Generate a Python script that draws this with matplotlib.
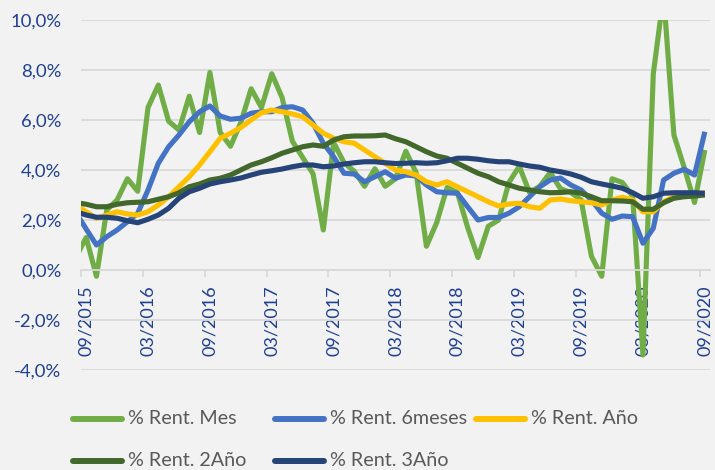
import matplotlib
matplotlib.use('Agg')
import matplotlib.pyplot as plt
from matplotlib.lines import Line2D
from matplotlib.ticker import FixedLocator
import numpy as np

# Monthly data, 08/2015 .. 09/2020 (values in %)
rent_mes = [0.5, 1.3, -0.25, 2.4, 2.8, 3.65, 3.15, 6.5, 7.4, 5.95, 5.6, 6.95, 5.5, 7.9, 5.5, 4.95,
            5.9, 7.25, 6.5, 7.85, 6.9, 5.15, 4.5, 3.85, 1.6, 5.1, 4.3, 3.95, 3.35, 4.05, 3.35,
            3.65, 4.75, 3.9, 0.95, 1.9, 3.3, 3.1, 1.7, 0.5, 1.75, 2.0, 3.5, 4.15, 3.1, 3.35,
            3.9, 3.25, 3.1, 2.8, 0.55, -0.25, 3.65, 3.5, 2.95, -3.4, 7.85, 11.0, 5.4, 4.1, 2.7, 4.8]
rent_6m = [2.3, 1.64, 1.0, 1.33, 1.6, 1.93, 2.27, 3.2, 4.27, 4.93, 5.4, 5.93, 6.33, 6.56, 6.16, 6.03,
           6.07, 6.27, 6.33, 6.33, 6.5, 6.53, 6.4, 5.87, 5.07, 4.53, 3.87, 3.84, 3.53, 3.73, 3.93,
           3.67, 3.8, 3.76, 3.4, 3.13, 3.09, 3.07, 2.53, 2.0, 2.1, 2.1, 2.27, 2.53, 2.93, 3.33,
           3.6, 3.68, 3.4, 3.2, 2.8, 2.27, 2.03, 2.16, 2.13, 1.07, 1.67, 3.6, 3.87, 4.03, 3.8, 5.53]
rent_ano = [2.6, 2.33, 2.07, 2.2, 2.33, 2.24, 2.2, 2.33, 2.6, 2.93, 3.33, 3.73, 4.2, 4.73, 5.27, 5.47,
            5.7, 6.0, 6.29, 6.4, 6.33, 6.24, 6.13, 5.8, 5.47, 5.27, 5.13, 5.07, 4.8, 4.53, 4.27,
            4.0, 3.93, 3.8, 3.53, 3.4, 3.53, 3.33, 3.13, 2.93, 2.73, 2.56, 2.64, 2.67, 2.53, 2.47,
            2.8, 2.84, 2.77, 2.73, 2.69, 2.6, 2.8, 2.91, 2.8, 2.33, 2.33, 2.73, 2.93, 3.0, 3.04, 3.09]
rent_2ano = [2.7, 2.63, 2.53, 2.53, 2.63, 2.69, 2.71, 2.73, 2.83, 2.93, 3.09, 3.33, 3.44, 3.6, 3.67, 3.8,
             4.0, 4.2, 4.33, 4.49, 4.67, 4.8, 4.93, 5.0, 4.95, 5.2, 5.33, 5.36, 5.36, 5.37, 5.4,
             5.25, 5.13, 4.93, 4.73, 4.56, 4.47, 4.27, 4.07, 3.87, 3.73, 3.53, 3.4, 3.27, 3.2, 3.13,
             3.09, 3.1, 3.13, 3.07, 2.93, 2.77, 2.77, 2.76, 2.73, 2.43, 2.43, 2.69, 2.87, 2.93, 2.96, 3.0]
rent_3ano = [2.33, 2.2, 2.11, 2.11, 2.07, 1.97, 1.89, 2.03, 2.2, 2.47, 2.87, 3.13, 3.27, 3.44, 3.53, 3.6,
             3.68, 3.8, 3.91, 3.97, 4.04, 4.13, 4.2, 4.2, 4.13, 4.16, 4.24, 4.29, 4.33, 4.33, 4.29,
             4.26, 4.27, 4.29, 4.27, 4.29, 4.37, 4.47, 4.47, 4.43, 4.37, 4.33, 4.33, 4.24, 4.16, 4.11,
             4.0, 3.93, 3.84, 3.71, 3.53, 3.44, 3.36, 3.27, 3.09, 2.87, 2.93, 3.07, 3.09, 3.09, 3.09, 3.07]

series_names = ['% Rent. Mes', '% Rent. 6meses', '% Rent. Año', '% Rent. 2Año', '% Rent. 3Año']
series_colors = ['#70AD47', '#4472C4', '#FFC000', '#43682B', '#264478']
xtick_labels = ['09/2015', '03/2016', '09/2016', '03/2017', '09/2017', '03/2018',
                '09/2018', '03/2019', '09/2019', '03/2020', '09/2020']
ytick_values = [-4, -2, 0, 2, 4, 6, 8, 10]
ytick_labels = ['-4,0%', '-2,0%', '0,0%', '2,0%', '4,0%', '6,0%', '8,0%', '10,0%']

plt.rcParams['font.family'] = ['Lato', 'DejaVu Sans']
BG = '#F2F2F2'
GRID = '#D9D9D9'
LABEL = '#1F3F94'

W, H = 715, 470
fig = plt.figure(figsize=(W / 100, H / 100), dpi=100, facecolor=BG)
ax = fig.add_axes([81 / W, (H - 370) / H, (710 - 81) / W, 350 / H])
ax.set_facecolor(BG)

x = np.arange(len(rent_mes))
all_series = [rent_mes, rent_6m, rent_ano, rent_2ano, rent_3ano]
for vals, name, col in zip(all_series, series_names, series_colors):
    ax.plot(x, vals, color=col, lw=3.7, solid_joinstyle='round', solid_capstyle='butt', label=name)

ax.set_xlim(0.5, len(rent_mes) - 0.5)
ax.set_ylim(-4, 10)
ax.set_yticks(ytick_values)
ax.set_yticklabels(ytick_labels)
ax.yaxis.grid(True, color=GRID, lw=1.3)
ax.set_axisbelow(True)
for s in ['left', 'right', 'top']:
    ax.spines[s].set_visible(False)
ax.spines['bottom'].set_position(('data', 0))
ax.spines['bottom'].set_color(GRID)
ax.spines['bottom'].set_linewidth(1.3)

label_pos = x[1::6]
ax.set_xticks(label_pos)
ax.set_xticklabels(xtick_labels, rotation=90)
ax.xaxis.set_minor_locator(FixedLocator(label_pos - 0.5))
ax.tick_params(axis='x', which='major', length=0, pad=11, labelsize=13, labelcolor=LABEL)
ax.tick_params(axis='x', which='minor', length=5, width=1.3, color=GRID, direction='out')
ax.tick_params(axis='y', length=0, pad=14, labelsize=13.3, labelcolor=LABEL)

# Legend (drawn manually to match layout)
legend_cols = [70, 272, 473]
legend_rows = [419, 461]
order = [(0, 0, 0), (1, 0, 1), (2, 0, 2), (3, 1, 0), (4, 1, 1)]
for idx, r, c in order:
    x0 = legend_cols[c]
    yy = (H - legend_rows[r]) / H
    fig.add_artist(Line2D([(x0 + 3) / W, (x0 + 52) / W], [yy, yy], transform=fig.transFigure,
                          color=series_colors[idx], lw=4.3, solid_capstyle='round'))
    fig.text((x0 + 58) / W, yy, series_names[idx], ha='left', va='center', fontsize=14.2,
             color='#595959')

fig.savefig('out.png', dpi=100, facecolor=BG)
